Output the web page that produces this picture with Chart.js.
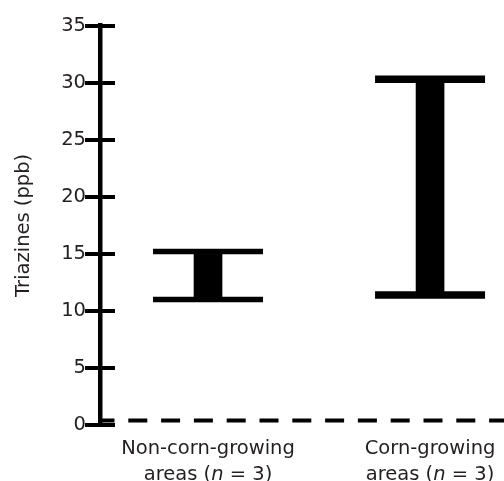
<!DOCTYPE html>
<html>
<head>
<meta charset="utf-8">
<script src="https://cdn.jsdelivr.net/npm/chart.js@4"></script>
<style>
  html, body { margin: 0; padding: 0; background: #fff; }
</style>
</head>
<body>
<canvas id="triazineChart" width="504" height="481"></canvas>
<script>
// area types, label split over two lines
const categories = [['Non-corn-growing', 'areas'], ['Corn-growing', 'areas']];
const sampleSizes = [3, 3];
// measured triazine range per area type (ppb)
const lowValues = [11.0, 11.4];
const highValues = [15.2, 30.3];
// dashed line along the bottom
const referenceLevel = 0.4;
const yTicks = [0, 5, 10, 15, 20, 25, 30, 35];

const FONT = 'DejaVu Sans';
const TEXT = '#231f20';

// tick marks cross the axis, chart.js only draws them on one side
const crossTicks = {
  id: 'crossTicks',
  afterDraw(chart) {
    const ctx = chart.ctx, y = chart.scales.y, left = chart.chartArea.left;
    ctx.save();
    ctx.strokeStyle = '#000';
    ctx.lineWidth = 4;
    y.ticks.forEach(t => {
      const py = Math.round(y.getPixelForValue(t.value));
      ctx.beginPath();
      ctx.moveTo(left - 15, py);
      ctx.lineTo(left + 15, py);
      ctx.stroke();
    });
    ctx.restore();
  }
};

const refLine = {
  id: 'refLine',
  beforeDatasetsDraw(chart) {
    const ctx = chart.ctx, area = chart.chartArea;
    const py = chart.scales.y.getPixelForValue(referenceLevel);
    ctx.save();
    ctx.strokeStyle = '#000';
    ctx.lineWidth = 4;
    ctx.setLineDash([19, 13.8]);
    ctx.lineDashOffset = 4.5;
    ctx.beginPath();
    ctx.moveTo(area.left, py);
    ctx.lineTo(area.right, py);
    ctx.stroke();
    ctx.restore();
  }
};

// category labels drawn by hand so the n can be italic
const catLabels = {
  id: 'catLabels',
  afterDraw(chart) {
    const ctx = chart.ctx, x = chart.scales.x, bottom = chart.chartArea.bottom;
    const normal = '19.5px "' + FONT + '"';
    const italic = 'italic 19.5px "' + FONT + '"';
    ctx.save();
    ctx.fillStyle = TEXT;
    ctx.textBaseline = 'alphabetic';
    categories.forEach((lines, i) => {
      const cx = x.getPixelForValue(i);
      ctx.font = normal;
      ctx.textAlign = 'center';
      ctx.fillText(lines[0], cx, bottom + 28.5);

      const parts = [
        [lines[1] + ' (', normal],
        ['n', italic],
        [' = ' + sampleSizes[i] + ')', normal]
      ];
      let total = 0;
      parts.forEach(p => { ctx.font = p[1]; total += ctx.measureText(p[0]).width; });
      let px = cx - total / 2;
      ctx.textAlign = 'left';
      parts.forEach(p => {
        ctx.font = p[1];
        ctx.fillText(p[0], px, bottom + 54.5);
        px += ctx.measureText(p[0]).width;
      });
    });
    ctx.restore();
  }
};

const ctx = document.getElementById('triazineChart').getContext('2d');

const capPoints = [];
const capWidths = [];
categories.forEach((c, i) => {
  capPoints.push({ x: i, y: lowValues[i] }, { x: i, y: highValues[i] });
  const w = i === 0 ? 5.5 : 7.5;
  capWidths.push(w, w);
});

new Chart(ctx, {
  type: 'bar',
  data: {
    datasets: [
      {
        type: 'line',
        data: capPoints,
        showLine: false,
        clip: false,
        pointStyle: 'line',
        pointRadius: 55,
        pointHoverRadius: 55,
        pointBorderColor: '#000',
        pointBorderWidth: capWidths
      },
      {
        data: categories.map((c, i) => ({ x: i, y: [lowValues[i], highValues[i]] })),
        backgroundColor: '#000',
        borderWidth: 0,
        barThickness: 28
      }
    ]
  },
  options: {
    responsive: false,
    animation: false,
    events: [],
    layout: { autoPadding: false, padding: { top: 24, right: 0, bottom: 0, left: 0 } },
    plugins: {
      legend: { display: false },
      tooltip: { enabled: false }
    },
    scales: {
      x: {
        type: 'linear',
        min: -0.4865,
        max: 1.333,
        afterBuildTicks: s => { s.ticks = []; },
        afterFit: s => { s.height = 56; },
        grid: { display: false, drawTicks: false },
        border: { display: false },
        ticks: { display: false }
      },
      y: {
        min: 0,
        max: 35,
        afterBuildTicks: s => { s.ticks = yTicks.map(v => ({ value: v })); },
        afterFit: s => { s.width = 100; },
        grid: { display: false, drawTicks: false },
        border: { display: true, color: '#000', width: 4.5 },
        ticks: { color: TEXT, font: { family: FONT, size: 19.5 }, padding: 14 },
        title: {
          display: true,
          text: 'Triazines (ppb)',
          color: TEXT,
          font: { family: FONT, size: 19.5 },
          padding: { top: 12, bottom: 0 }
        }
      }
    }
  },
  plugins: [crossTicks, refLine, catLabels]
});
</script>
</body>
</html>
